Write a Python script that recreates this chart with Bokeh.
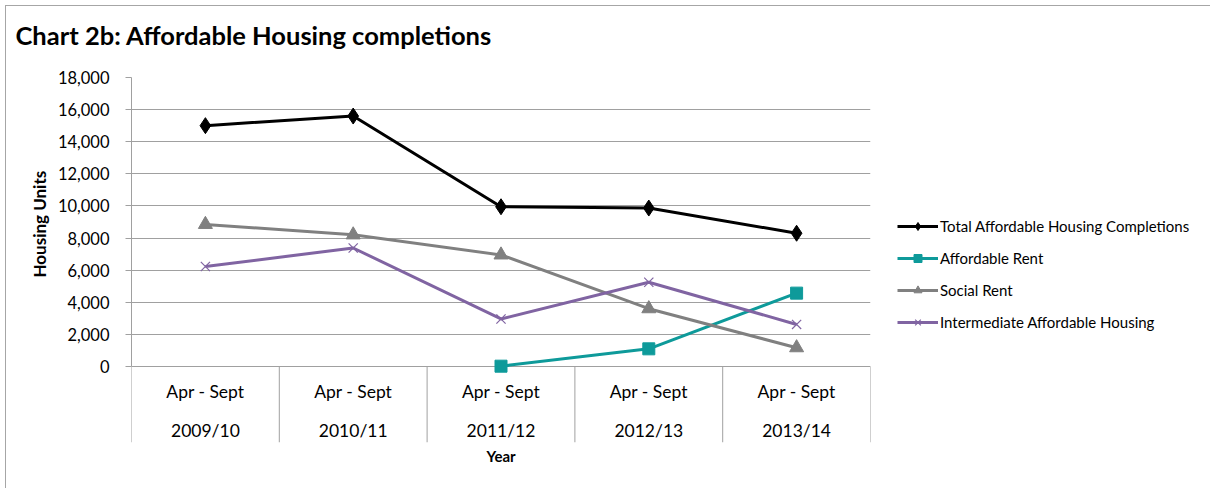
from bokeh.plotting import figure
from bokeh.models import (FixedTicker, NumeralTickFormatter, Legend, LegendItem, Range1d, Title)
from bokeh.core.properties import value
from bokeh.embed import file_html
from bokeh.resources import INLINE
import numpy as np

# ---- data ----
periods = ["Apr - Sept"] * 5
years = ["2009/10", "2010/11", "2011/12", "2012/13", "2013/14"]
total = [15000, 15600, 9950, 9870, 8300]
affordable_rent = [np.nan, np.nan, 20, 1100, 4570]
social_rent = [8850, 8200, 6950, 3600, 1170]
intermediate = [6230, 7380, 2960, 5250, 2620]
y_ticks = [0, 2000, 4000, 6000, 8000, 10000, 12000, 14000, 16000, 18000]
chart_title = "Chart 2b: Affordable Housing completions"

FONT = "Lato"
xs = [i + 0.5 for i in range(len(years))]
bounds_x = list(range(len(years) + 1))

# layout (pixels)
PLOT_H = 289          # height of the value area (0..18000)
LABEL_AREA = 76       # category-label area below zero inside the frame
y_max = 18000
y_min = -LABEL_AREA * y_max / PLOT_H

p = figure(frame_width=739, frame_height=PLOT_H + LABEL_AREA,
           min_border_left=125, min_border_top=71, min_border_bottom=46, min_border_right=8,
           x_range=Range1d(0, len(years)), y_range=Range1d(y_min, y_max),
           output_backend="svg", toolbar_location=None)
p.styles = {"margin-left": "5px", "margin-top": "5px",
            "border-left": "1px solid #a6a6a6", "border-top": "1px solid #a6a6a6"}

# spacer panel (closest to the frame), then the chart title above it
spacer = Title(text=" ", text_font_size="1px", standoff=24)
p.add_layout(spacer, "above")
main_title = Title(text=chart_title, align="left", offset=-116, standoff=2,
                   text_font=FONT, text_font_size="25.5px", text_font_style="bold",
                   text_color="#000000")
p.add_layout(main_title, "above")

p.outline_line_color = None
p.background_fill_color = "white"
p.border_fill_color = "white"

# y axis
p.yaxis.ticker = FixedTicker(ticks=y_ticks)
p.yaxis.bounds = (0, y_max)
p.yaxis.formatter = NumeralTickFormatter(format="0,0")
p.yaxis.major_tick_out = 6
p.yaxis.major_tick_in = 0
p.yaxis.minor_tick_out = 0
p.yaxis.minor_tick_in = 0
p.yaxis.axis_line_color = "#a0a0a0"
p.yaxis.major_tick_line_color = "#a0a0a0"
p.yaxis.major_label_text_font = FONT
p.yaxis.major_label_text_font_size = "16.5px"
p.yaxis.major_label_text_color = "#000000"
p.yaxis.major_label_standoff = 16

# y-axis title, placed along the value area
ytitle = Title(text="Housing Units", align="left", offset=165, standoff=10,
               text_font=FONT, text_font_size="17px", text_font_style="bold",
               text_color="#000000")
p.add_layout(ytitle, "left")

p.ygrid.ticker = FixedTicker(ticks=y_ticks)
p.ygrid.grid_line_color = "#a0a0a0"
p.ygrid.grid_line_width = 1
p.xgrid.grid_line_color = None

# x axis: only the title "Year"
p.xaxis.ticker = FixedTicker(ticks=[])
p.xaxis.axis_line_color = None
p.xaxis.major_tick_out = 0
p.xaxis.minor_tick_out = 0
p.xaxis.axis_label = "Year"
p.xaxis.axis_label_text_font = FONT
p.xaxis.axis_label_text_font_size = "15px"
p.xaxis.axis_label_text_font_style = "bold"
p.xaxis.axis_label_text_color = "#000000"
p.xaxis.axis_label_standoff = 4

# category separators and labels below zero
p.segment(x0=bounds_x, y0=[0] * len(bounds_x), x1=bounds_x, y1=[y_min] * len(bounds_x),
          line_color="#a0a0a0", line_width=1)
p.text(x=xs, y=[0] * len(xs), text=periods, y_offset=25,
       text_font=value(FONT), text_font_size="17.5px", text_color="#000000",
       text_align="center", text_baseline="middle")
p.text(x=xs, y=[0] * len(xs), text=years, y_offset=64,
       text_font=value(FONT), text_font_size="17.5px", text_color="#000000",
       text_align="center", text_baseline="middle")

BLACK = "#000000"
TEAL = "#0e9a9a"
GRAY = "#808080"
PURPLE = "#8064a2"

r1l = p.line(xs, total, line_color=BLACK, line_width=3)
r1m = p.scatter(xs, total, marker="diamond", size=16, color=BLACK)
r2l = p.line(xs, affordable_rent, line_color=TEAL, line_width=3)
r2m = p.scatter(xs, affordable_rent, marker="square", size=12, color=TEAL)
r3l = p.line(xs, social_rent, line_color=GRAY, line_width=3)
r3m = p.scatter(xs, social_rent, marker="triangle", size=14, color=GRAY)
r4l = p.line(xs, intermediate, line_color=PURPLE, line_width=3)
r4m = p.scatter(xs, intermediate, marker="x", size=13, line_color=PURPLE, line_width=1.2)

legend = Legend(items=[
    LegendItem(label="Total Affordable Housing Completions", renderers=[r1l, r1m]),
    LegendItem(label="Affordable Rent", renderers=[r2l, r2m]),
    LegendItem(label="Social Rent", renderers=[r3l, r3m]),
    LegendItem(label="Intermediate Affordable Housing", renderers=[r4l, r4m]),
], location=(27, 110))
legend.border_line_color = None
legend.background_fill_alpha = 0
legend.padding = 0
legend.margin = 0
legend.spacing = 11
legend.glyph_width = 41
legend.glyph_height = 20
legend.label_height = 21
legend.label_standoff = 2
legend.label_text_font = FONT
legend.label_text_font_size = "15px"
legend.label_text_color = "#000000"
p.add_layout(legend, "right")

open("out.html", "w").write(file_html(p, INLINE))
